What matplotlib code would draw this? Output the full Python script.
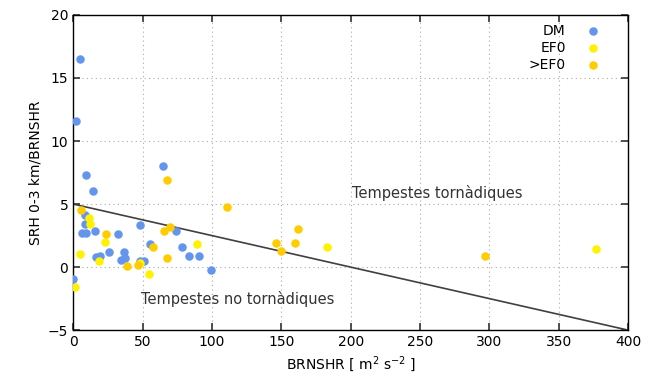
import matplotlib.pyplot as plt
import matplotlib.ticker as ticker

# DM
dm_x = [5, 2, 9, 14.4, 65, 0, 8.4, 8.9, 6.5, 9.4, 16, 32.4, 48, 26, 36.5, 16.8, 19.7,
        34.4, 37.7, 48.5, 51, 74, 55.5, 78.3, 83.6, 90.6, 99.2]
dm_y = [16.5, 11.6, 7.3, 6.0, 8.0, -0.95, 4.1, 3.4, 2.7, 2.7, 2.9, 2.6, 3.3, 1.2, 1.2, 0.77, 0.9,
        0.58, 0.71, 0.5, 0.5, 2.9, 1.85, 1.6, 0.9, 0.9, -0.2]
# EF0
ef0_x = [11.3, 12.5, 23.3, 4.6, 18.5, 48.5, 54.5, 1.2, 89, 183, 377]
ef0_y = [3.9, 3.4, 2.0, 1.0, 0.5, 0.35, -0.55, -1.6, 1.8, 1.6, 1.4]
# >EF0
gef0_x = [6, 24, 39, 46.5, 110.8, 65.6, 70, 57.4, 67.5, 68, 162, 146.3, 160, 150, 296.7]
gef0_y = [4.5, 2.6, 0.1, 0.2, 4.75, 2.9, 3.15, 1.6, 0.74, 6.93, 3.0, 1.93, 1.93, 1.3, 0.87]

# linia separadora
lx = [0, 400]
ly = [5, -5]

fig = plt.figure(figsize=(6.53, 3.83), dpi=100)
ax = fig.add_axes([0.112, 0.138, 0.85, 0.823])

ax.plot(lx, ly, color='#404040', lw=1.2, zorder=2)
ax.scatter(dm_x, dm_y, s=26, color='#6495ED', label='DM', zorder=3)
ax.scatter(ef0_x, ef0_y, s=26, color='#FFF200', label='EF0', zorder=3)
ax.scatter(gef0_x, gef0_y, s=26, color='#FFCC00', label='>EF0', zorder=3)

ax.set_xlim(0, 400)
ax.set_ylim(-5, 20)
ax.xaxis.set_major_locator(ticker.MultipleLocator(50))
ax.yaxis.set_major_locator(ticker.MultipleLocator(5))
ax.grid(True, linestyle=(0, (1, 3)), color='#aaaaaa', lw=0.8)
ax.tick_params(direction='in', top=True, right=True, length=5, width=1.2,
               labelsize=10, colors='#333333', labelcolor='black')
for sp in ax.spines.values():
    sp.set_linewidth(1.0)

ax.set_xlabel('BRNSHR [ m$^{2}$ s$^{-2}$ ]', fontsize=10)
ax.set_ylabel('SRH 0-3 km/BRNSHR', fontsize=10)

ax.text(201, 5.9, 'Tempestes tornàdiques', fontsize=10.5, color='#333333', va='center')
ax.text(49, -2.5, 'Tempestes no tornàdiques', fontsize=10.5, color='#333333', va='center')

leg = ax.legend(loc='upper right', bbox_to_anchor=(0.98, 1.003), frameon=False,
                markerfirst=False, fontsize=10, handletextpad=1.0,
                labelspacing=0.22, borderaxespad=0.3)
for t in leg.get_texts():
    t.set_ha('right')

fig.savefig('out.png', dpi=100)
